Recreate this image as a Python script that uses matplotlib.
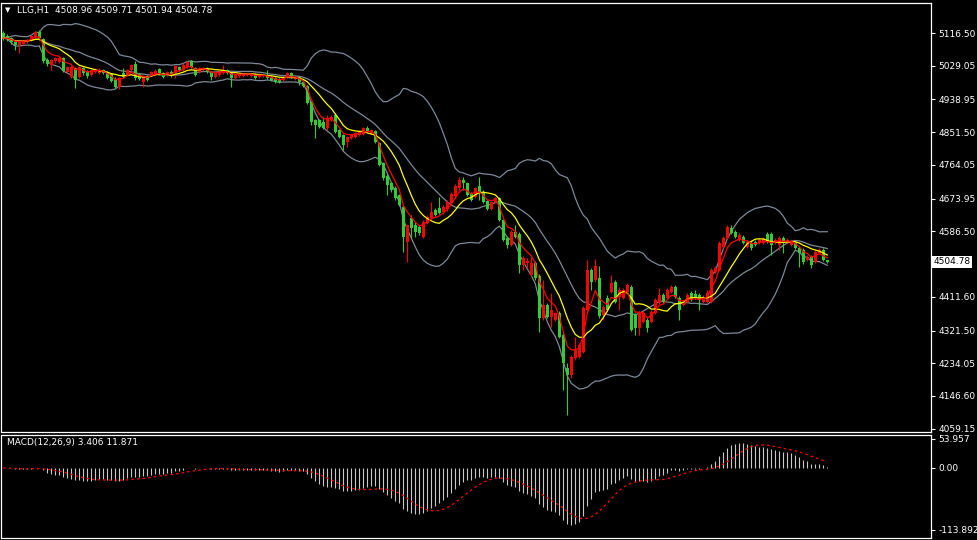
import numpy as np
import pandas as pd
import matplotlib
matplotlib.use("Agg")
import matplotlib.pyplot as plt

symbol_title = "LLG,H1  4508.96 4509.71 4501.94 4504.78"
macd_title = "MACD(12,26,9) 3.406 11.871"

opens = [5117, 5109, 5103, 5093, 5085, 5087, 5093, 5098, 5106, 5119,
         5101, 5044, 5031, 5042, 5039, 5050, 5012, 4999, 5023, 4999,
         5023, 5015, 5004, 5012, 5010, 5018, 5012, 5007, 4994, 4972,
         5010, 5004, 5018, 5034, 5007, 4986, 5002, 5004, 5007, 5020,
         5010, 5004, 5012, 5010, 5026, 5018, 5026, 5042, 5023, 5012,
         5018, 5023, 5012, 4999, 5004, 5010, 5018, 5010, 4996, 5002,
         5002, 5004, 5002, 5007, 4999, 5002, 5004, 4999, 4996, 4994,
         4991, 4999, 5010, 4994, 4999, 4986, 4975, 4932, 4884, 4884,
         4879, 4863, 4884, 4897, 4857, 4844, 4825, 4836, 4839, 4844,
         4847, 4863, 4849, 4855, 4823, 4769, 4734, 4716, 4702, 4684,
         4652, 4558, 4622, 4604, 4598, 4571, 4609, 4622, 4644, 4649,
         4638, 4646, 4662, 4681, 4702, 4724, 4716, 4686, 4678, 4708,
         4692, 4668, 4646, 4665, 4676, 4617, 4569, 4550, 4585, 4580,
         4497, 4502, 4470, 4502, 4467, 4355, 4390, 4358, 4350, 4368,
         4310, 4221, 4203, 4248, 4251, 4264, 4376, 4483, 4457, 4462,
         4363, 4408, 4425, 4451, 4411, 4408, 4425, 4438, 4363, 4328,
         4344, 4350, 4344, 4368, 4395, 4417, 4408, 4425, 4438, 4408,
         4390, 4398, 4422, 4419, 4417, 4398, 4398, 4398, 4478, 4483,
         4545, 4569, 4596, 4585, 4563, 4571, 4545, 4555, 4558, 4555,
         4555, 4580, 4580, 4555, 4550, 4569, 4555, 4550, 4555, 4542,
         4537, 4510, 4518, 4505, 4529, 4537, 4508.96]

highs = [5122, 5114, 5106, 5095, 5095, 5098, 5101, 5111, 5122, 5125,
         5103, 5050, 5047, 5052, 5055, 5052, 5028, 5031, 5026, 5028,
         5026, 5018, 5020, 5023, 5023, 5020, 5015, 5010, 4999, 4999,
         5023, 5020, 5034, 5042, 5010, 5002, 5004, 5015, 5020, 5023,
         5012, 5015, 5018, 5031, 5028, 5036, 5042, 5044, 5026, 5026,
         5026, 5026, 5015, 5012, 5015, 5031, 5020, 5012, 5007, 5010,
         5010, 5010, 5010, 5010, 5007, 5007, 5018, 5002, 4999, 4996,
         5002, 5012, 5012, 5002, 5002, 4991, 4978, 4935, 4887, 4887,
         4892, 4897, 4897, 4903, 4860, 4847, 4841, 4847, 4852, 4857,
         4865, 4868, 4860, 4857, 4825, 4772, 4740, 4718, 4708, 4686,
         4657, 4606, 4630, 4612, 4604, 4617, 4630, 4665, 4649, 4678,
         4657, 4670, 4692, 4713, 4732, 4732, 4718, 4692, 4705, 4732,
         4697, 4670, 4668, 4678, 4678, 4620, 4574, 4590, 4604, 4585,
         4521, 4515, 4518, 4507, 4473, 4457, 4395, 4422, 4371, 4374,
         4315, 4235, 4256, 4304, 4288, 4387, 4510, 4489, 4513, 4494,
         4390, 4417, 4470, 4457, 4438, 4435, 4449, 4443, 4368, 4374,
         4374, 4355, 4376, 4408, 4435, 4422, 4435, 4443, 4443, 4414,
         4403, 4422, 4427, 4430, 4422, 4417, 4430, 4489, 4494, 4561,
         4574, 4604, 4604, 4590, 4582, 4577, 4563, 4561, 4563, 4569,
         4571, 4585, 4585, 4569, 4574, 4574, 4569, 4563, 4561, 4547,
         4542, 4523, 4523, 4537, 4542, 4542, 4509.71]

lows = [5098, 5095, 5087, 5071, 5063, 5085, 5090, 5095, 5103, 5098,
        5036, 5028, 5018, 5036, 5036, 5012, 5010, 4996, 4970, 4996,
        5004, 4996, 5002, 5010, 5007, 5007, 4994, 4986, 4970, 4967,
        4996, 5002, 5015, 4991, 4991, 4972, 4988, 5002, 5004, 5004,
        4996, 5002, 4999, 4996, 5015, 5015, 5023, 5023, 5002, 5010,
        5015, 5010, 4991, 4996, 5002, 5007, 5007, 4972, 4994, 4999,
        4999, 5002, 4999, 4994, 4996, 4999, 4994, 4988, 4983, 4983,
        4988, 4996, 4996, 4991, 4978, 4972, 4927, 4871, 4836, 4863,
        4860, 4857, 4881, 4849, 4836, 4804, 4812, 4833, 4836, 4841,
        4844, 4849, 4847, 4823, 4761, 4724, 4684, 4692, 4670, 4654,
        4531, 4505, 4569, 4571, 4577, 4569, 4606, 4620, 4628, 4633,
        4633, 4641, 4660, 4676, 4697, 4697, 4681, 4668, 4676, 4670,
        4662, 4644, 4644, 4662, 4614, 4561, 4542, 4547, 4569, 4475,
        4483, 4489, 4467, 4457, 4318, 4350, 4355, 4331, 4347, 4302,
        4163, 4096, 4195, 4243, 4248, 4262, 4374, 4430, 4451, 4355,
        4350, 4374, 4422, 4395, 4376, 4406, 4422, 4320, 4310, 4310,
        4342, 4318, 4342, 4366, 4392, 4395, 4406, 4422, 4408, 4350,
        4387, 4395, 4400, 4406, 4376, 4395, 4395, 4395, 4475, 4481,
        4542, 4566, 4580, 4569, 4561, 4553, 4542, 4537, 4547, 4553,
        4553, 4555, 4523, 4553, 4537, 4529, 4553, 4547, 4539, 4491,
        4499, 4507, 4489, 4502, 4526, 4507, 4501.94]

closes = [5103, 5101, 5093, 5085, 5093, 5095, 5098, 5109, 5119, 5103,
          5042, 5034, 5044, 5050, 5050, 5015, 5026, 5026, 4991, 5026,
          5010, 5002, 5018, 5020, 5018, 5010, 4996, 4988, 4972, 4996,
          4999, 5018, 5031, 4996, 4994, 4999, 4991, 5012, 5015, 5010,
          4999, 5012, 5002, 5028, 5018, 5031, 5039, 5026, 5004, 5023,
          5023, 5012, 4999, 5010, 5012, 5018, 5010, 4996, 5004, 5007,
          5007, 5007, 5007, 4996, 5004, 5004, 4996, 4991, 4986, 4986,
          4999, 5010, 4999, 4999, 4986, 4975, 4930, 4879, 4871, 4865,
          4863, 4889, 4892, 4852, 4839, 4817, 4839, 4844, 4849, 4852,
          4863, 4852, 4857, 4825, 4764, 4729, 4710, 4697, 4676, 4657,
          4571, 4604, 4596, 4585, 4582, 4612, 4625, 4638, 4630, 4636,
          4652, 4665, 4686, 4708, 4724, 4716, 4684, 4670, 4702, 4692,
          4665, 4646, 4665, 4676, 4617, 4563, 4550, 4585, 4571, 4497,
          4515, 4507, 4502, 4462, 4355, 4390, 4358, 4376, 4368, 4304,
          4235, 4203, 4251, 4270, 4283, 4382, 4483, 4451, 4494, 4360,
          4384, 4376, 4449, 4398, 4430, 4430, 4443, 4323, 4328, 4368,
          4368, 4328, 4371, 4403, 4417, 4398, 4430, 4438, 4411, 4376,
          4398, 4417, 4403, 4408, 4403, 4411, 4422, 4483, 4489, 4555,
          4569, 4598, 4582, 4571, 4577, 4555, 4558, 4542, 4550, 4563,
          4566, 4558, 4550, 4563, 4569, 4555, 4563, 4558, 4542, 4529,
          4505, 4518, 4497, 4531, 4537, 4510, 4504.78]

price_ticks = [5116.50, 5029.05, 4938.95, 4851.50, 4764.05, 4673.95,
               4586.50, 4411.60, 4321.50, 4234.05, 4146.60, 4059.15]
price_tick_labels = ["5116.50", "5029.05", "4938.95", "4851.50", "4764.05", "4673.95",
                     "4586.50", "4411.60", "4321.50", "4234.05", "4146.60", "4059.15"]
current_price = 4504.78
current_label = "4504.78"
macd_ticks = [53.957, 0.0, -113.892]
macd_tick_labels = ["53.957", "0.00", "-113.892"]

# ---------------- figure ----------------
W, H = 978, 540
fig = plt.figure(figsize=(W / 100, H / 100), dpi=100, facecolor="black")

def px_axes(x0, y0, x1, y1):
    return fig.add_axes([x0 / W, 1 - y1 / H, (x1 - x0) / W, (y1 - y0) / H])

ax = px_axes(1.5, 2.5, 931.5, 431.5)
ax2 = px_axes(1.5, 434.5, 931.5, 537.5)

o = np.array(opens, float)
h = np.array(highs, float)
l = np.array(lows, float)
c = np.array(closes, float)
n = len(c)
x = np.arange(n)

UP = "#FF0000"
DOWN = "#32CD32"
cols = np.where(c >= o, UP, DOWN)

s = pd.Series(c)
mid = s.rolling(20, min_periods=1).mean()
sd = s.rolling(20, min_periods=1).std(ddof=0).fillna(0)
upper = mid + 2 * sd
lower = mid - 2 * sd
ema5 = s.ewm(span=5, adjust=False).mean()
sma10 = s.rolling(10, min_periods=1).mean()

band_col = "#7D8896"
ax.plot(x, upper, color=band_col, lw=0.9, zorder=1)
ax.plot(x, mid, color=band_col, lw=0.9, zorder=1)
ax.plot(x, lower, color=band_col, lw=0.9, zorder=1)

ax.vlines(x, l, h, colors=cols, linewidth=0.8, zorder=2)
body_bot = np.minimum(o, c)
body_h = np.maximum(np.abs(c - o), 1.2)
ax.bar(x, body_h, bottom=body_bot, width=0.7, color=cols, linewidth=0, zorder=3)

ax.plot(x, sma10, color="#FFFF00", lw=0.9, zorder=4)
ax.plot(x, ema5, color="#FF0000", lw=0.9, zorder=4)

# x range: bar i at pixel 3.3 + 4 i
ax.set_xlim(-0.45, 232.05)
ax.set_ylim(4051.7, 5198.0)

ema12 = s.ewm(span=12, adjust=False).mean()
ema26 = s.ewm(span=26, adjust=False).mean()
macd = ema12 - ema26
signal = macd.rolling(9, min_periods=1).mean()

ax2.vlines(x, 0, macd, colors="#C8C8C8", linewidth=0.8)
ax2.plot(x, signal, color="#FF0000", lw=0.9, linestyle=(0, (2, 2.5)))
ax2.set_xlim(-0.45, 232.05)
ax2.set_ylim(-128.7, 62.0)

for a in (ax, ax2):
    a.set_facecolor("black")
    for sp in a.spines.values():
        sp.set_color("white")
        sp.set_linewidth(0.9)
    a.set_xticks([])
    a.yaxis.tick_right()
    a.tick_params(axis="y", colors="white", length=3, width=0.8,
                  labelsize=6.5, pad=2, labelcolor="white")

ax.set_yticks(price_ticks)
ax.set_yticklabels(price_tick_labels)
ax2.set_yticks(macd_ticks)
ax2.set_yticklabels(macd_tick_labels)

ax.text(1.002, current_price, current_label, transform=ax.get_yaxis_transform(),
        ha="left", va="center", fontsize=6.5, color="black", clip_on=False,
        bbox=dict(facecolor="white", edgecolor="none", pad=1.2))

fig.text(5 / W, 1 - 10 / H, "\u25BC", color="white", fontsize=5, va="center", ha="left")
fig.text(17 / W, 1 - 10.5 / H, symbol_title, color="white", fontsize=6.5, va="center", ha="left")
fig.text(7 / W, 1 - 442 / H, macd_title, color="white", fontsize=6.5, va="center", ha="left")

fig.savefig("out.png", dpi=100, facecolor="black")
